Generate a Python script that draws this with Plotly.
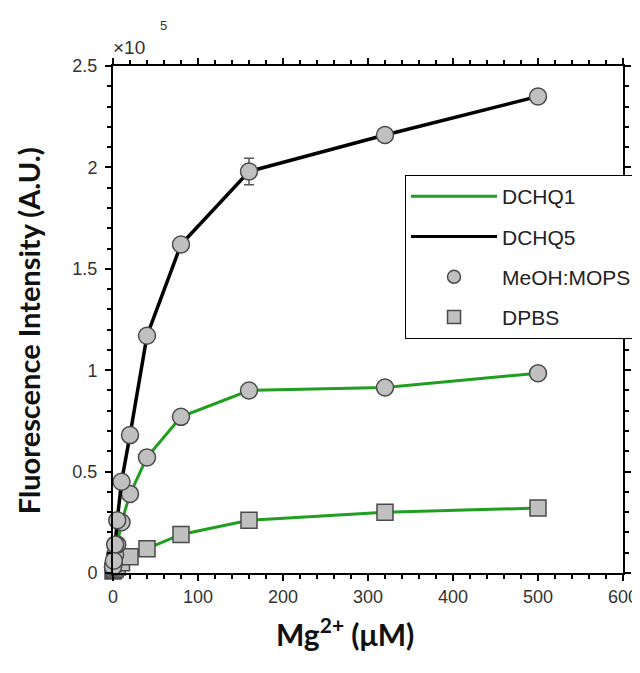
import plotly.graph_objects as go

# Mg2+ concentrations (uM)
mg_conc = [0, 1, 2.5, 5, 10, 20, 40, 80, 160, 320, 500]

# Fluorescence intensity in units of 1e5 A.U.
dchq5_meoh = [0.03, 0.06, 0.14, 0.26, 0.45, 0.68, 1.17, 1.62, 1.98, 2.16, 2.35]
dchq5_meoh_err = [0, 0, 0, 0, 0, 0, 0, 0, 0.065, 0, 0]
dchq1_meoh = [0.03, 0.05, 0.09, 0.14, 0.25, 0.39, 0.57, 0.77, 0.90, 0.915, 0.985]
dchq1_dpbs = [0.01, 0.015, 0.02, 0.03, 0.05, 0.08, 0.12, 0.19, 0.26, 0.30, 0.32]

x_ticks = [0, 100, 200, 300, 400, 500, 600]
y_ticks = [0, 0.5, 1, 1.5, 2, 2.5]
y_tick_text = ["0", "0.5", "1", "1.5", "2", "2.5"]

GREEN = "#1f9e1f"
MARK_FILL = "#c0c0c0"
MARK_LINE = "#4a4a4a"
TICK_FONT = dict(family="Liberation Sans, Arial, sans-serif", size=18, color="#333333")
TITLE_FAMILY = "Lato, Open Sans, sans-serif"

fig = go.Figure()

fig.add_trace(go.Scatter(
    x=mg_conc, y=dchq1_dpbs, mode="lines+markers", showlegend=False, cliponaxis=False,
    line=dict(color=GREEN, width=3),
    marker=dict(symbol="square", size=16, color=MARK_FILL, line=dict(color=MARK_LINE, width=1.5)),
))
fig.add_trace(go.Scatter(
    x=mg_conc, y=dchq1_meoh, mode="lines+markers", showlegend=False, cliponaxis=False,
    line=dict(color=GREEN, width=3),
    marker=dict(symbol="circle", size=17, color=MARK_FILL, line=dict(color=MARK_LINE, width=1.5)),
))
fig.add_trace(go.Scatter(
    x=mg_conc, y=dchq5_meoh, mode="lines+markers", showlegend=False, cliponaxis=False,
    line=dict(color="black", width=3.5),
    error_y=dict(type="data", array=dchq5_meoh_err, color="#555555", thickness=1.5, width=5),
    marker=dict(symbol="circle", size=17, color=MARK_FILL, line=dict(color=MARK_LINE, width=1.5)),
))

# legend entries
fig.add_trace(go.Scatter(x=[None], y=[None], mode="lines", name="DCHQ1",
                         legendgroup="a", line=dict(color=GREEN, width=3)))
fig.add_trace(go.Scatter(x=[None], y=[None], mode="lines", name="DCHQ5",
                         legendgroup="b", line=dict(color="black", width=3)))
fig.add_trace(go.Scatter(x=[None], y=[None], mode="markers", name="MeOH:MOPS",
                         legendgroup="c",
                         marker=dict(symbol="circle", size=13, color=MARK_FILL,
                                     line=dict(color=MARK_LINE, width=1.5))))
fig.add_trace(go.Scatter(x=[None], y=[None], mode="markers", name="DPBS",
                         legendgroup="d",
                         marker=dict(symbol="square", size=13, color=MARK_FILL,
                                     line=dict(color=MARK_LINE, width=1.5))))

axis_common = dict(
    showline=True, linecolor="black", linewidth=2, mirror="ticks",
    ticks="outside", ticklen=6, tickwidth=1.5, tickcolor="black",
    showgrid=False, zeroline=False, tickfont=TICK_FONT,
)

fig.update_xaxes(
    range=[0, 600], tickvals=x_ticks,
    minor=dict(dtick=20, ticks="outside", ticklen=4, tickwidth=1.5, tickcolor="black"),
    **axis_common,
)
fig.update_yaxes(
    range=[0, 2.5], tickvals=y_ticks, ticktext=y_tick_text, ticklabelstandoff=4,
    minor=dict(dtick=0.1, ticks="outside", ticklen=4, tickwidth=1.5, tickcolor="black"),
    **axis_common,
)

# y-axis title (slightly below centre, as in the original)
fig.add_annotation(xref="paper", yref="paper", x=0, y=0.477, xanchor="center", yanchor="middle",
                   text="<b>Fluorescence Intensity (A.U.)</b>", showarrow=False, textangle=-90,
                   font=dict(family=TITLE_FAMILY, size=29, color="#111111"), xshift=-85)

# x-axis title (slightly left of centre, as in the original)
fig.add_annotation(xref="paper", yref="paper", x=0.455, y=0, xanchor="center", yanchor="middle",
                   text="<b>Mg<sup>2+</sup> (μM)</b>", showarrow=False,
                   font=dict(family=TITLE_FAMILY, size=30, color="#111111"), yshift=-59)

# exponent label
fig.add_annotation(xref="paper", yref="paper", x=0, y=1, xanchor="left", yanchor="middle",
                   text="×10", showarrow=False,
                   font=dict(family=TICK_FONT["family"], size=19, color="#333333"),
                   xshift=-2, yshift=19)
fig.add_annotation(xref="paper", yref="paper", x=0, y=1, xanchor="center", yanchor="middle",
                   text="5", showarrow=False,
                   font=dict(family=TICK_FONT["family"], size=13, color="#333333"),
                   xshift=50, yshift=41)

fig.update_layout(
    width=632, height=665,
    margin=dict(l=105, r=17, t=58, b=100, autoexpand=False),
    plot_bgcolor="white", paper_bgcolor="white",
    legend=dict(
        x=1.0275, xanchor="right", y=0.785, yanchor="top",
        bgcolor="white", bordercolor="black", borderwidth=1,
        font=dict(family="Liberation Sans, Arial, sans-serif", size=21, color="#222222"),
        tracegroupgap=10, itemwidth=86,
    ),
)

fig.write_html("out.html")
